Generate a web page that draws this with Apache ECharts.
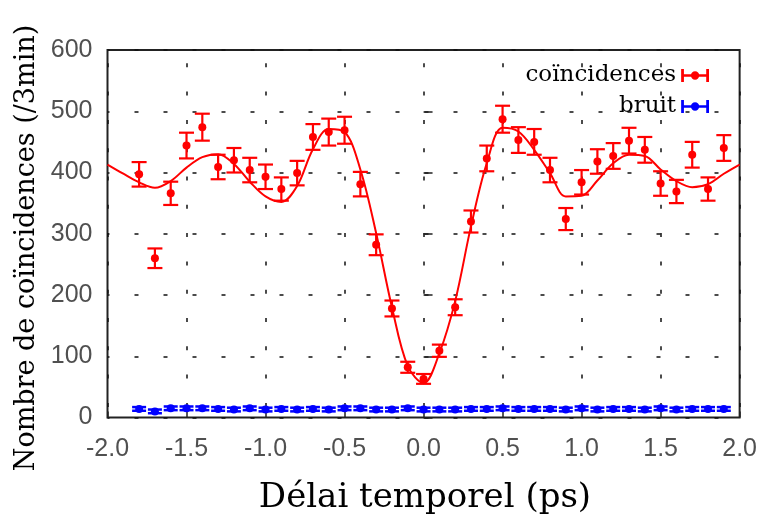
<!DOCTYPE html>
<html>
<head>
<meta charset="utf-8">
<script src="https://cdn.jsdelivr.net/npm/echarts@6/dist/echarts.min.js"></script>
<style>
html,body{margin:0;padding:0;background:#fff;}
#chart{width:760px;height:520px;}
</style>
</head>
<body>
<div id="chart"></div>
<script>
// ---- data ----
const delays = [-1.8,-1.7,-1.6,-1.5,-1.4,-1.3,-1.2,-1.1,-1.0,-0.9,-0.8,-0.7,-0.6,-0.5,-0.4,-0.3,-0.2,-0.1,0.0,
                0.1,0.2,0.3,0.4,0.5,0.6,0.7,0.8,0.9,1.0,1.1,1.2,1.3,1.4,1.5,1.6,1.7,1.8,1.9];
const coincidences = [397,260,366,444,474,409,420,404,393,373,399,458,466,469,381,282,178,82,63,
                      109,180,320,423,487,453,450,404,324,384,418,427,452,437,382,369,429,373,440];
const coincErr = [20,16,19,21,22,20,20,20,20,19,20,21,22,22,20,17,13,9,8,
                  10,13,18,21,22,21,21,20,18,20,20,21,21,21,20,19,21,19,21];
const bruit = [14,10,15,15,15,14,13,15,13,14,13,14,13,15,15,13,13,15,13,
               13,13,14,14,15,14,14,14,13,15,13,14,14,13,15,13,14,14,14];
const bruitErr = [3,3,3,3,3,3,3,3,3,3,3,3,3,3,3,3,3,3,3,
                  3,3,3,3,3,3,3,3,3,3,3,3,3,3,3,3,3,3,3];
const fitX = [-2.0,-1.9,-1.8,-1.7,-1.6,-1.5,-1.4,-1.3,-1.2,-1.1,-1.0,-0.9,-0.8,-0.7,-0.6,-0.5,-0.4,-0.3,-0.2,-0.1,0.0,
              0.1,0.2,0.3,0.4,0.5,0.6,0.7,0.8,0.9,1.0,1.1,1.2,1.3,1.4,1.5,1.6,1.7,1.8,1.9,2.0];
const fitY = [413,398,384,375,386,408,425,430,414,385,361,352,378,438,471,466,405,301,180,84,56,
              105,190,312,415,473,467,437,399,361,362,387,415,429,427,405,386,376,381,398,413];
const xTicks = [-2.0,-1.5,-1.0,-0.5,0.0,0.5,1.0,1.5,2.0];
const yTicks = [0,100,200,300,400,500,600];
const xTitle = 'Délai temporel (ps)';
const yTitle = 'Nombre de coïncidences (/3min)';
const nameCoinc = 'coïncidences';
const nameBruit = 'bruit';

// ---- chart ----
const RED = '#ff0000', BLUE = '#0000ff';
function errRenderer(color, capHalf, lw, r) {
  return function (params, api) {
    const x = api.value(0), y = api.value(1), e = api.value(2);
    const p = api.coord([x, y]);
    const t = api.coord([x, y + e]);
    const b = api.coord([x, y - e]);
    const st = {stroke: color, lineWidth: lw};
    return {type: 'group', children: [
      {type: 'line', shape: {x1: p[0], y1: t[1], x2: p[0], y2: b[1]}, style: st},
      {type: 'line', shape: {x1: p[0] - capHalf, y1: t[1], x2: p[0] + capHalf, y2: t[1]}, style: st},
      {type: 'line', shape: {x1: p[0] - capHalf, y1: b[1], x2: p[0] + capHalf, y2: b[1]}, style: st},
      {type: 'circle', shape: {cx: p[0], cy: p[1], r: r}, style: {fill: color}}
    ]};
  };
}
const coincData = delays.map((d, i) => [d, coincidences[i], coincErr[i]]);
const bruitData = delays.map((d, i) => [d, bruit[i], bruitErr[i]]);
const fitData = fitX.map((d, i) => [d, fitY[i]]);

const legendIcon = 'path://M0,0h3v14h-3z M0,5.75h30v2.5h-30z M27,0h3v14h-3z M10.5,7a4.5,4.5 0 1,1 9,0a4.5,4.5 0 1,1 -9,0z';

const chart = echarts.init(document.getElementById('chart'), null, {renderer: 'canvas'});
chart.setOption({
  backgroundColor: '#ffffff',
  animation: false,
  grid: {left: 107.5, right: 20, top: 50, bottom: 102.5, show: true,
         borderColor: '#222', borderWidth: 2, backgroundColor: 'transparent'},
  legend: {
    orient: 'vertical', align: 'right', right: 46, top: 59,
    itemWidth: 28, itemHeight: 13, itemGap: 8,
    textStyle: {fontFamily: 'DejaVu Serif', fontSize: 23, color: '#000'},
    data: [{name: nameCoinc, icon: legendIcon}, {name: nameBruit, icon: legendIcon}],
    selectedMode: false
  },
  xAxis: {
    type: 'value', min: -2, max: 2, interval: 0.5,
    axisLine: {show: false},
    axisTick: {show: true, inside: true, length: 6, lineStyle: {color: '#222', width: 1.5}},
    axisLabel: {margin: 19, fontFamily: 'Liberation Sans', fontSize: 25, color: '#505050',
                formatter: v => v.toFixed(1)},
    splitLine: {show: true, lineStyle: {color: '#111', width: 1.5, type: [4, 24.3], dashOffset: 15}}
  },
  yAxis: {
    type: 'value', min: 0, max: 600, interval: 100,
    axisLine: {show: false},
    axisTick: {show: true, inside: true, length: 9, lineStyle: {color: '#222', width: 1.5}},
    axisLabel: {margin: 15, fontFamily: 'Liberation Sans', fontSize: 25, color: '#505050'},
    splitLine: {show: true, lineStyle: {color: '#111', width: 1.5, type: [4, 25], dashOffset: 2}}
  },
  graphic: [
    {type: 'text', x: 425, y: 498, style: {text: xTitle, font: '34px "DejaVu Serif"',
      fill: '#000', align: 'center', verticalAlign: 'middle'}},
    {type: 'text', x: 27, y: 248, rotation: Math.PI / 2, style: {text: yTitle, font: '27px "DejaVu Serif"',
      fill: '#000', align: 'center', verticalAlign: 'middle'}}
  ],
  series: [
    {type: 'line', name: 'fit', data: fitData, smooth: 0.35, showSymbol: false,
     lineStyle: {color: RED, width: 2}, itemStyle: {color: RED}, z: 2},
    {type: 'custom', name: nameCoinc, data: coincData, renderItem: errRenderer(RED, 7.5, 2.2, 4),
     encode: {x: 0, y: 1}, itemStyle: {color: RED}, z: 3},
    {type: 'custom', name: nameBruit, data: bruitData, renderItem: errRenderer(BLUE, 7, 2.5, 4),
     encode: {x: 0, y: 1}, itemStyle: {color: BLUE}, z: 3}
  ]
});
</script>
</body>
</html>
